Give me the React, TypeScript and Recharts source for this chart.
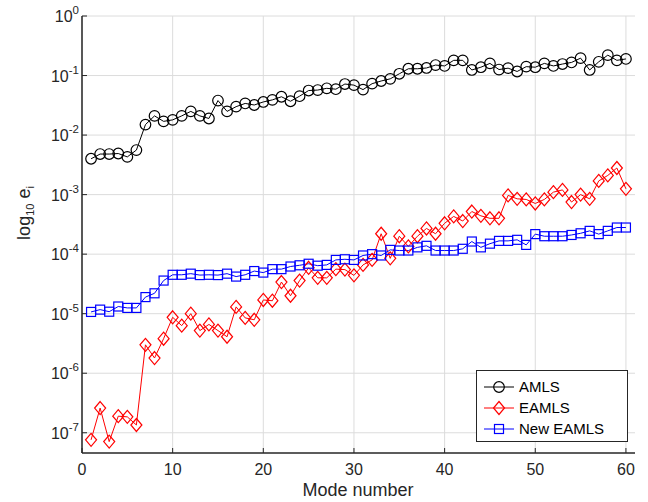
import React from 'react';
import { LineChart, Line, XAxis, YAxis, CartesianGrid, Legend } from 'recharts';

const modes = [1,2,3,4,5,6,7,8,9,10,11,12,13,14,15,16,17,18,19,20,21,22,23,24,25,26,27,28,29,30,31,32,33,34,35,36,37,38,39,40,41,42,43,44,45,46,47,48,49,50,51,52,53,54,55,56,57,58,59,60];

const amls = [0.0040,0.0048,0.0048,0.0049,0.0043,0.0056,0.015,0.021,0.017,0.018,0.021,0.025,0.021,0.019,0.038,0.025,0.030,0.034,0.032,0.036,0.039,0.044,0.037,0.045,0.056,0.057,0.061,0.059,0.072,0.069,0.058,0.073,0.081,0.088,0.107,0.13,0.13,0.134,0.15,0.145,0.18,0.18,0.124,0.138,0.16,0.126,0.133,0.117,0.141,0.138,0.16,0.145,0.156,0.166,0.196,0.124,0.17,0.22,0.18,0.19];

const eamls = [7.6e-8,2.6e-7,7.1e-8,1.9e-7,1.85e-7,1.35e-7,3.0e-6,1.8e-6,3.8e-6,8.7e-6,6.3e-6,1.0e-5,5.2e-6,6.6e-6,5.2e-6,4.1e-6,1.3e-5,8.5e-6,7.9e-6,1.7e-5,1.65e-5,3.4e-5,2.0e-5,3.6e-5,5.9e-5,4.0e-5,4.0e-5,5.6e-5,5.5e-5,4.4e-5,6.6e-5,8.0e-5,2.2e-4,8.5e-5,2.0e-4,1.35e-4,2.0e-4,2.7e-4,2.2e-4,3.3e-4,4.3e-4,3.6e-4,5.2e-4,4.4e-4,4.0e-4,4.0e-4,9.7e-4,8.5e-4,8.3e-4,7.1e-4,8.3e-4,1.1e-3,1.2e-3,7.5e-4,1.0e-3,8.5e-4,1.7e-3,2.1e-3,2.8e-3,1.25e-3];

const newEamls = [1.07e-5,1.17e-5,1.08e-5,1.32e-5,1.25e-5,1.25e-5,1.9e-5,2.2e-5,3.6e-5,4.5e-5,4.5e-5,4.7e-5,4.45e-5,4.5e-5,4.45e-5,4.7e-5,4.2e-5,4.5e-5,5.2e-5,4.9e-5,5.6e-5,5.6e-5,6.2e-5,6.5e-5,6.9e-5,6.4e-5,6.6e-5,8.0e-5,8.2e-5,8.0e-5,9.5e-5,1.0e-4,9.5e-5,1.18e-4,1.15e-4,1.15e-4,1.3e-4,1.38e-4,1.15e-4,1.15e-4,1.15e-4,1.23e-4,1.63e-4,1.3e-4,1.5e-4,1.67e-4,1.67e-4,1.74e-4,1.43e-4,2.17e-4,2.0e-4,2.0e-4,2.0e-4,2.1e-4,2.24e-4,2.46e-4,2.17e-4,2.46e-4,2.8e-4,2.8e-4];

const xTicks = [0, 10, 20, 30, 40, 50, 60];
const yExponents = [-7, -6, -5, -4, -3, -2, -1, 0];
const yTicks = yExponents.map((e) => Math.pow(10, e));

const seriesNames = ['AMLS', 'EAMLS', 'New EAMLS'];
const seriesColors = ['#000000', '#ff0000', '#0000ff'];

const data = modes.map((m, i) => ({ mode: m, amls: amls[i], eamls: eamls[i], newEamls: newEamls[i] }));

const FONT = '"Liberation Sans", Arial, Helvetica, sans-serif';
const AXIS = '#262626';

function marker(kind: number, cx: number, cy: number, color: string, key?: any) {
  if (kind === 0) return <circle key={key} cx={cx} cy={cy} r={5.3} fill="none" stroke={color} strokeWidth={1.2} />;
  if (kind === 1)
    return (
      <path key={key} d={`M${cx},${cy - 6.5}L${cx + 5.5},${cy}L${cx},${cy + 6.5}L${cx - 5.5},${cy}Z`} fill="none" stroke={color} strokeWidth={1.2} />
    );
  return <rect key={key} x={cx - 4.5} y={cy - 4.5} width={9} height={9} fill="none" stroke={color} strokeWidth={1.2} />;
}

const makeDot = (kind: number, color: string) => (props: any) => {
  const { cx, cy, index } = props;
  if (cx == null || cy == null) return <g key={`d-${kind}-${index}`} />;
  return marker(kind, cx, cy, color, `d-${kind}-${index}`);
};

const YTick = (props: any) => {
  const { x, y, payload } = props;
  const exp = Math.round(Math.log10(payload.value));
  return (
    <text x={x} y={y} dy={6} textAnchor="end" fontSize={16} fill={AXIS} fontFamily={FONT}>
      <tspan>10</tspan>
      <tspan dy={-8} fontSize={11.5}>{String(exp)}</tspan>
    </text>
  );
};

const YLabel = () => (
  <text x={0} y={0} transform="translate(30,213) rotate(-90)" textAnchor="middle" fontSize={18} fill={AXIS} fontFamily={FONT}>
    <tspan>log</tspan>
    <tspan dy={4} fontSize={11}>10</tspan>
    <tspan dy={-4}> e</tspan>
    <tspan dy={4} fontSize={11}>i</tspan>
  </text>
);

const XLabel = () => (
  <text x={358} y={496} textAnchor="middle" fontSize={18} fill={AXIS} fontFamily={FONT}>
    Mode number
  </text>
);

const LegendBox = () => (
  <div style={{ width: 152, height: 72, border: `1px solid ${AXIS}`, background: '#fff', boxSizing: 'border-box' }}>
    <svg width={150} height={70}>
      {seriesNames.map((name, i) => {
        const cy = 16 + i * 21;
        return (
          <g key={name}>
            <line x1={7} x2={37} y1={cy} y2={cy} stroke={seriesColors[i]} strokeWidth={1} />
            {marker(i, 22, cy, seriesColors[i])}
            <text x={42} y={cy + 5} fontSize={15} fill="#000" fontFamily={FONT}>
              {name}
            </text>
          </g>
        );
      })}
    </svg>
  </div>
);

export default function App() {
  return (
    <div style={{ position: 'absolute', left: 0, top: 0, width: 648, height: 502, background: '#fff' }}>
      <LineChart width={648} height={502} data={data} margin={{ top: 16, right: 13, bottom: 0, left: 0 }}>
        <CartesianGrid stroke="#dcdcdc" strokeWidth={1} horizontalValues={yTicks} verticalValues={xTicks} />
        <XAxis
          dataKey="mode"
          type="number"
          domain={[0, 61]}
          ticks={xTicks}
          height={49}
          tickSize={-5}
          tickMargin={16}
          tick={{ fontSize: 16, fill: AXIS, fontFamily: FONT }}
          stroke={AXIS}
          axisLine={{ stroke: AXIS, strokeWidth: 1.5 }}
          tickLine={{ stroke: AXIS }}
          label={<XLabel />}
          allowDataOverflow
        />
        <XAxis xAxisId="top" orientation="top" type="number" domain={[0, 61]} height={0} tick={false} tickLine={false} axisLine={{ stroke: AXIS, strokeWidth: 1.5 }} />
        <YAxis
          scale="log"
          type="number"
          domain={[Math.pow(10, -7.34), 1]}
          ticks={yTicks}
          width={82}
          tickSize={-5}
          tickMargin={8}
          tick={<YTick />}
          axisLine={{ stroke: AXIS, strokeWidth: 1.5 }}
          tickLine={{ stroke: AXIS }}
          label={<YLabel />}
          allowDataOverflow
          interval={0}
        />
        <YAxis yAxisId="right" orientation="right" scale="log" type="number" domain={[Math.pow(10, -7.34), 1]} width={0} tick={false} tickLine={false} axisLine={{ stroke: AXIS, strokeWidth: 1.5 }} />
        <Line dataKey="amls" stroke={seriesColors[0]} strokeWidth={1} dot={makeDot(0, seriesColors[0])} isAnimationActive={false} />
        <Line dataKey="eamls" stroke={seriesColors[1]} strokeWidth={1} dot={makeDot(1, seriesColors[1])} isAnimationActive={false} />
        <Line dataKey="newEamls" stroke={seriesColors[2]} strokeWidth={1} dot={makeDot(2, seriesColors[2])} isAnimationActive={false} />
        <Legend
          layout="horizontal"
          verticalAlign="middle"
          align="center"
          content={<LegendBox />}
          wrapperStyle={{ position: 'absolute', left: 476, top: 370, width: 152, height: 72 }}
        />
      </LineChart>
    </div>
  );
}
